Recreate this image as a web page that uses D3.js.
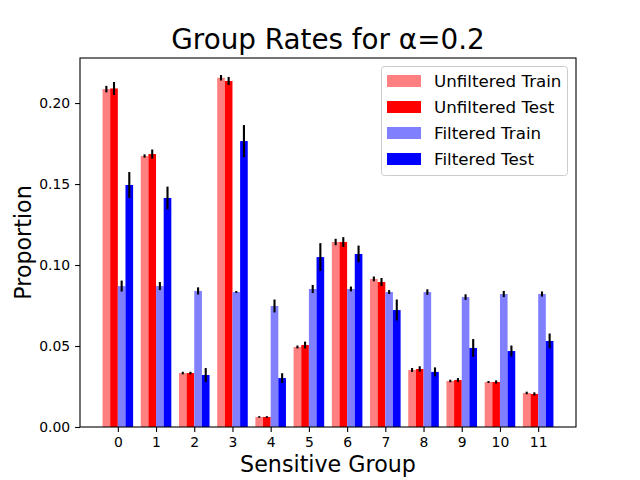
<!DOCTYPE html>
<html>
<head>
<meta charset="utf-8">
<script src="https://cdn.jsdelivr.net/npm/d3@7"></script>
<style>
  body { margin: 0; background: #fff; }
  svg { font-family: "DejaVu Sans", sans-serif; }
</style>
</head>
<body>
<svg id="chart" width="640" height="480"></svg>
<script>
// Sensitive groups
const groups = [0, 1, 2, 3, 4, 5, 6, 7, 8, 9, 10, 11];

const seriesNames = ["Unfiltered Train", "Unfiltered Test", "Filtered Train", "Filtered Test"];
const seriesColors = ["#ff8080", "#ff0000", "#8080ff", "#0000ff"];

// Proportions
const unfilteredTrain = [0.2086, 0.1673, 0.0333, 0.2156, 0.0062, 0.0494, 0.1142, 0.0914, 0.0352, 0.0284, 0.0278, 0.0210];
const unfilteredTest  = [0.2090, 0.1685, 0.0333, 0.2136, 0.0062, 0.0506, 0.1142, 0.0895, 0.0358, 0.0290, 0.0278, 0.0204];
const filteredTrain   = [0.0870, 0.0870, 0.0840, 0.0833, 0.0747, 0.0852, 0.0852, 0.0833, 0.0833, 0.0802, 0.0821, 0.0821];
const filteredTest    = [0.1494, 0.1414, 0.0321, 0.1765, 0.0302, 0.1049, 0.1068, 0.0722, 0.0340, 0.0488, 0.0469, 0.0531];

// Error bar half-lengths
const unfilteredTrainErr = [0.0020, 0.0010, 0.0008, 0.0017, 0.0005, 0.0009, 0.0020, 0.0015, 0.0012, 0.0008, 0.0006, 0.0008];
const unfilteredTestErr  = [0.0040, 0.0028, 0.0008, 0.0025, 0.0005, 0.0021, 0.0030, 0.0025, 0.0017, 0.0012, 0.0010, 0.0010];
const filteredTrainErr   = [0.0034, 0.0025, 0.0022, 0.0006, 0.0040, 0.0025, 0.0015, 0.0012, 0.0017, 0.0017, 0.0019, 0.0016];
const filteredTestErr    = [0.0080, 0.0070, 0.0043, 0.0099, 0.0030, 0.0086, 0.0052, 0.0065, 0.0028, 0.0055, 0.0034, 0.0046];

const yTicks = [0, 0.05, 0.10, 0.15, 0.20];

const values = [unfilteredTrain, unfilteredTest, filteredTrain, filteredTest];
const errors = [unfilteredTrainErr, unfilteredTestErr, filteredTrainErr, filteredTestErr];
const offsets = [-0.3, -0.1, 0.1, 0.3];
const barWidth = 0.2;

const svg = d3.select("#chart");
const margin = { left: 80, right: 576, top: 58, bottom: 427 };

const x = d3.scaleLinear().domain([-0.99, 11.99]).range([margin.left, margin.right]);
const y = d3.scaleLinear().domain([0, 0.2278]).range([margin.bottom, margin.top]);

// Flatten into bar records
const bars = [];
values.forEach((vals, s) => {
  vals.forEach((v, i) => {
    bars.push({ s, g: groups[i], v, e: errors[s][i] });
  });
});

// Bars
svg.append("g")
  .selectAll("rect")
  .data(bars)
  .enter()
  .append("rect")
  .attr("x", d => x(d.g + offsets[d.s] - barWidth / 2))
  .attr("width", d => x(d.g + offsets[d.s] + barWidth / 2) - x(d.g + offsets[d.s] - barWidth / 2))
  .attr("y", d => y(d.v))
  .attr("height", d => y(0) - y(d.v))
  .attr("fill", d => seriesColors[d.s]);

// Error bars
svg.append("g")
  .selectAll("line")
  .data(bars)
  .enter()
  .append("line")
  .attr("x1", d => x(d.g + offsets[d.s]))
  .attr("x2", d => x(d.g + offsets[d.s]))
  .attr("y1", d => y(d.v - d.e))
  .attr("y2", d => y(d.v + d.e))
  .attr("stroke", "#000")
  .attr("stroke-width", 2.1);

// Axes
const xAxis = svg.append("g")
  .attr("transform", `translate(0,${margin.bottom})`)
  .call(d3.axisBottom(x).tickValues(groups).tickFormat(d3.format("d")).tickSizeOuter(0).tickSize(4.9).tickPadding(4.9));

const yAxis = svg.append("g")
  .attr("transform", `translate(${margin.left},0)`)
  .call(d3.axisLeft(y).tickValues(yTicks).tickFormat(d3.format(".2f")).tickSizeOuter(0).tickSize(4.9).tickPadding(4.9));

[xAxis, yAxis].forEach(a => {
  a.selectAll("text").style("font-size", "13.9px").style("font-family", "DejaVu Sans").attr("fill", "#000");
  a.selectAll("line").attr("stroke", "#000").attr("stroke-width", 1.1);
  a.select(".domain").remove();
});

// Frame
svg.append("rect")
  .attr("x", margin.left)
  .attr("y", margin.top)
  .attr("width", margin.right - margin.left)
  .attr("height", margin.bottom - margin.top)
  .attr("fill", "none")
  .attr("stroke", "#000")
  .attr("stroke-width", 1.1);

// Title and axis labels
svg.append("text")
  .attr("x", (margin.left + margin.right) / 2)
  .attr("y", 49)
  .attr("text-anchor", "middle")
  .style("font-size", "27.8px")
  .text("Group Rates for α=0.2");

svg.append("text")
  .attr("x", (margin.left + margin.right) / 2)
  .attr("y", 472)
  .attr("text-anchor", "middle")
  .style("font-size", "22.2px")
  .text("Sensitive Group");

svg.append("text")
  .attr("transform", `translate(31,${(margin.top + margin.bottom) / 2}) rotate(-90)`)
  .attr("text-anchor", "middle")
  .style("font-size", "22.2px")
  .text("Proportion");

// Legend
const legend = svg.append("g");
legend.append("rect")
  .attr("x", 381.5)
  .attr("y", 66.5)
  .attr("width", 186)
  .attr("height", 109)
  .attr("rx", 3)
  .attr("fill", "#fff")
  .attr("fill-opacity", 0.8)
  .attr("stroke", "#ccc");

const items = legend.selectAll("g.item")
  .data(seriesNames)
  .enter()
  .append("g")
  .attr("transform", (d, i) => `translate(0,${81 + i * 26})`);

items.append("rect")
  .attr("x", 387)
  .attr("y", -6)
  .attr("width", 34)
  .attr("height", 12)
  .attr("fill", (d, i) => seriesColors[i]);

items.append("text")
  .attr("x", 434)
  .attr("y", 6)
  .style("font-size", "16.7px")
  .text(d => d);
</script>
</body>
</html>
